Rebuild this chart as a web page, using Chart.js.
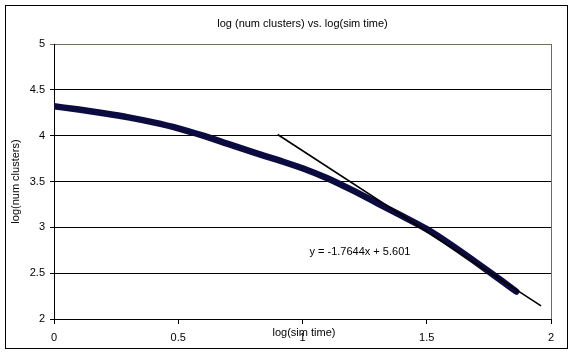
<!DOCTYPE html>
<html>
<head>
<meta charset="utf-8">
<script src="https://cdn.jsdelivr.net/npm/chart.js@4"></script>
<style>
html,body{margin:0;padding:0;background:#fff;}
#wrap{width:574px;height:355px;}
</style>
</head>
<body>
<div id="wrap"><canvas id="c" width="574" height="355"></canvas></div>
<script>
// ---- data ----
const simTimeLog = [0, 0.1, 0.2, 0.3, 0.4, 0.5, 0.6, 0.7, 0.8, 0.9, 1.0, 1.1, 1.2, 1.3, 1.4, 1.5, 1.6, 1.7, 1.8, 1.86];
const clustersLog = [4.32, 4.285, 4.245, 4.2, 4.145, 4.08, 4.0, 3.91, 3.82, 3.735, 3.645, 3.535, 3.405, 3.265, 3.125, 2.98, 2.805, 2.615, 2.42, 2.30];
const trendX = [0.9, 1.96];
const trendSlope = -1.7644;
const trendIntercept = 5.601;
const xTicks = [0, 0.5, 1, 1.5, 2];
const yTicks = [2, 2.5, 3, 3.5, 4, 4.5, 5];
const titleText = 'log (num clusters) vs. log(sim time)';
const xTitle = 'log(sim time)';
const yTitle = 'log(num clusters)';
const eqText = 'y = -1.7644x + 5.601';
const eqPos = {x: 1.028, y: 2.73};

const mainPts = simTimeLog.map((x, i) => ({x: x, y: clustersLog[i]}));
const trendPts = trendX.map(x => ({x: x, y: trendSlope * x + trendIntercept}));

Chart.defaults.font.family = '"Liberation Sans", Arial, sans-serif';
Chart.defaults.font.size = 11;
Chart.defaults.color = '#000';

const FONT = '11px "Liberation Sans", Arial, sans-serif';
const OLIVE = '#6f6f52';

const decor = {
  id: 'decor',
  beforeDraw(chart) {
    const ctx = chart.ctx;
    ctx.save();
    ctx.fillStyle = '#fff';
    ctx.fillRect(0, 0, chart.width, chart.height);
    ctx.restore();
  },
  afterDraw(chart) {
    const ctx = chart.ctx;
    const a = chart.chartArea;
    ctx.save();
    ctx.strokeStyle = '#000';
    ctx.lineWidth = 1;
    ctx.strokeRect(5.5, 5.5, 562, 343);
    ctx.strokeStyle = OLIVE;
    ctx.beginPath();
    ctx.moveTo(Math.round(a.right) + 0.5, a.top);
    ctx.lineTo(Math.round(a.right) + 0.5, a.bottom);
    ctx.stroke();
    ctx.fillStyle = '#000';
    ctx.font = FONT;
    ctx.textAlign = 'center';
    ctx.textBaseline = 'middle';
    ctx.fillText(titleText, (a.left + a.right) / 2, 24);
    ctx.fillText(xTitle, 304, 333);
    ctx.save();
    ctx.translate(16, (a.top + a.bottom) / 2);
    ctx.rotate(-Math.PI / 2);
    ctx.fillText(yTitle, 0, 0);
    ctx.restore();
    const xs = chart.scales.x, ys = chart.scales.y;
    ctx.textAlign = 'left';
    ctx.fillText(eqText, xs.getPixelForValue(eqPos.x), ys.getPixelForValue(eqPos.y));
    ctx.restore();
  }
};

const fmt = v => String(Math.round(v * 10) / 10);

new Chart(document.getElementById('c'), {
  type: 'scatter',
  data: {
    datasets: [
      {
        data: mainPts,
        showLine: true,
        borderColor: '#0b0b40',
        backgroundColor: '#0b0b40',
        borderWidth: 6.5,
        pointRadius: 0,
        cubicInterpolationMode: 'monotone',
        borderCapStyle: 'round',
        order: 2
      },
      {
        data: trendPts,
        showLine: true,
        borderColor: '#000',
        borderWidth: 1.6,
        pointRadius: 0,
        order: 1
      }
    ]
  },
  options: {
    responsive: false,
    animation: false,
    devicePixelRatio: 1,
    layout: {padding: {left: 0, top: 44, right: 23, bottom: 0}},
    plugins: {legend: {display: false}, tooltip: {enabled: false}, title: {display: false}},
    scales: {
      x: {
        type: 'linear',
        min: 0, max: 2,
        afterBuildTicks(s) { s.ticks = xTicks.map(v => ({value: v})); },
        afterFit(s) { s.height = 36; },
        grid: {drawOnChartArea: false, drawTicks: true, tickLength: 5, color: '#000'},
        border: {color: '#000', width: 1},
        ticks: {padding: 7, maxRotation: 0, color: '#000', callback: fmt}
      },
      y: {
        type: 'linear',
        min: 2, max: 5,
        afterBuildTicks(s) { s.ticks = yTicks.map(v => ({value: v})); },
        afterFit(s) { s.width = 54; },
        grid: {
          drawTicks: true, tickLength: 4,
          color: ctx => (ctx.tick && ctx.tick.value === 5) ? OLIVE : '#000'
        },
        border: {color: '#000', width: 1},
        ticks: {padding: 5, color: '#000', callback: fmt}
      }
    }
  },
  plugins: [decor]
});
</script>
</body>
</html>
